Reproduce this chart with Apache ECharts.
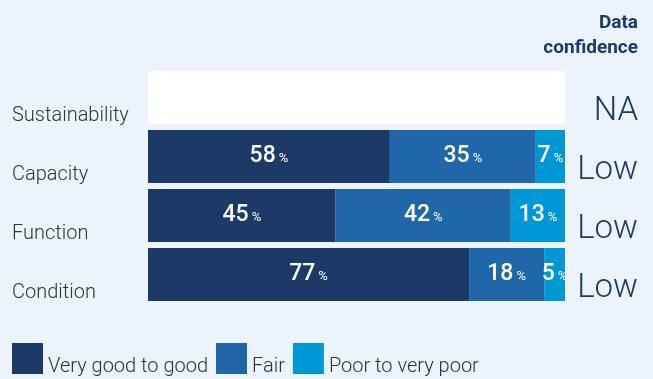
<!DOCTYPE html>
<html>
<head>
<meta charset="utf-8">
<script src="https://cdn.jsdelivr.net/npm/echarts@6/dist/echarts.min.js"></script>
<style>
  html, body { margin: 0; padding: 0; background: #ecf3fb; }
  #chart { width: 653px; height: 379px; }
</style>
</head>
<body>
<div id="chart"></div>
<script>
// data
const categories = ["Sustainability", "Capacity", "Function", "Condition"];
const confidence = ["NA", "Low", "Low", "Low"];
const goodValues = [null, 58, 45, 77];
const fairValues = [null, 35, 42, 18];
const poorValues = [null, 7, 13, 5];
const naValues = [100, null, null, null];

const colors = ["#1b3a68", "#1f67a8", "#0097d6"];
const font = "Roboto";

const chart = echarts.init(document.getElementById("chart"));

// label inside each segment: big number + small %
function segLabel() {
  return {
    show: true,
    position: "inside",
    formatter: p => (p.value == null ? "" : "{v|" + p.value + "}{p|%}"),
    rich: {
      v: { color: "#fff", fontSize: 23, fontWeight: 500, fontFamily: font, height: 24 },
      p: { color: "#fff", fontSize: 13, fontFamily: font, padding: [5, 0, 0, 3] }
    }
  };
}

const option = {
  backgroundColor: "#ecf3fb",
  animation: false,
  graphic: [
    {
      type: "text",
      x: 638,
      y: 11,
      style: {
        text: "Data\nconfidence",
        align: "right",
        fill: "#1b3a68",
        font: "bold 19px Roboto",
        lineHeight: 25
      }
    }
  ],
  legend: {
    left: 12,
    top: 343,
    padding: 0,
    icon: "rect",
    itemWidth: 31,
    itemHeight: 31,
    itemGap: 8,
    data: ["Very good to good", "Fair", "Poor to very poor"],
    formatter: "{t|{name}}",
    textStyle: {
      rich: {
        t: { color: "#333", fontSize: 20, fontWeight: 300, fontFamily: font, padding: [17, 0, 0, 0] }
      }
    }
  },
  grid: { left: 148, right: 88, top: 68, bottom: 75 },
  xAxis: {
    type: "value",
    min: 0,
    max: 100,
    show: false
  },
  yAxis: [
    {
      type: "category",
      inverse: true,
      data: categories,
      axisLine: { show: false },
      axisTick: { show: false },
      axisLabel: {
        align: "left",
        margin: 136,
        formatter: "{a|{value}}",
        rich: {
          a: { color: "#333", fontSize: 20, fontWeight: 300, fontFamily: font, padding: [37, 0, 0, 0] }
        }
      }
    },
    {
      type: "category",
      inverse: true,
      position: "right",
      data: confidence,
      axisLine: { show: false },
      axisTick: { show: false },
      axisLabel: {
        align: "right",
        margin: 73,
        formatter: "{a|{value}}",
        rich: {
          a: { color: "#1b3a68", fontSize: 33, fontWeight: 300, fontFamily: font, padding: [28, 0, 0, 0] }
        }
      }
    }
  ],
  series: [
    {
      name: "NA",
      type: "bar",
      stack: "total",
      barCategoryGap: "10%",
      data: naValues,
      itemStyle: { color: "#ffffff" }
    },
    {
      name: "Very good to good",
      type: "bar",
      stack: "total",
      data: goodValues,
      itemStyle: { color: colors[0] },
      label: segLabel()
    },
    {
      name: "Fair",
      type: "bar",
      stack: "total",
      data: fairValues,
      itemStyle: { color: colors[1] },
      label: segLabel()
    },
    {
      name: "Poor to very poor",
      type: "bar",
      stack: "total",
      data: poorValues,
      itemStyle: { color: colors[2] },
      label: segLabel()
    }
  ]
};

chart.setOption(option);
</script>
</body>
</html>
